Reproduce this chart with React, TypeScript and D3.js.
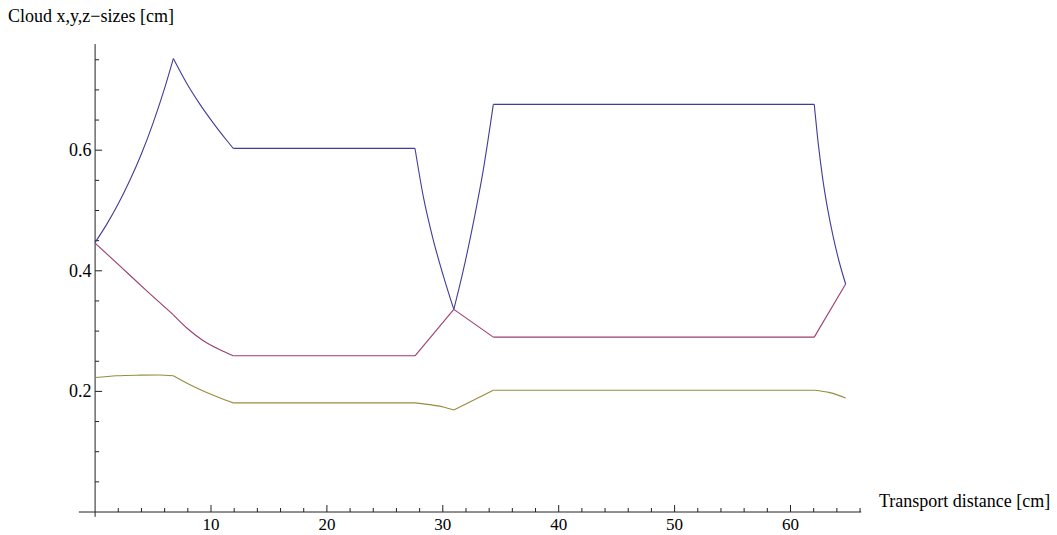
import React from "react";
import * as d3 from "d3";

const W = 1057;
const H = 535;

const titleY = "Cloud x,y,z\u2212sizes [cm]";
const titleX = "Transport distance [cm]";

const xMajorTicks = [10, 20, 30, 40, 50, 60];
const yMajorTicks = [0.2, 0.4, 0.6];

// break points where the curves have corners
const kinks = [6.75, 11.92, 27.6, 30.95, 34.36, 62.05];

const seriesX: [number, number][] = [
  [0, 0.447], [1, 0.477], [2, 0.511], [3, 0.55], [4, 0.594], [5, 0.645], [6, 0.703],
  [6.75, 0.752], [7.9, 0.711], [9.05, 0.676], [10.2, 0.645], [11.35, 0.6165], [11.92, 0.603],
  [27.6, 0.603], [28.32, 0.523], [29.18, 0.451], [30.04, 0.392], [30.95, 0.336],
  [31.77, 0.401], [32.63, 0.479], [33.49, 0.567], [34.36, 0.676],
  [62.05, 0.676], [62.4, 0.61], [62.8, 0.55], [63.2, 0.503], [63.7, 0.455], [64.2, 0.415],
  [64.76, 0.378],
];

const seriesY: [number, number][] = [
  [0, 0.446], [2.25, 0.406], [4.5, 0.366], [6.75, 0.327], [8.04, 0.303], [9.34, 0.284],
  [10.78, 0.269], [11.92, 0.259], [27.6, 0.259], [30.95, 0.336], [34.36, 0.29],
  [62.05, 0.29], [64.76, 0.378],
];

const seriesZ: [number, number][] = [
  [0, 0.223], [1.86, 0.226], [3.87, 0.227], [5.5, 0.2273], [6.75, 0.226], [8.19, 0.211],
  [9.63, 0.198], [11.06, 0.187], [11.92, 0.181], [27.6, 0.181], [28.9, 0.178],
  [30.04, 0.174], [30.95, 0.169], [34.36, 0.202], [62.05, 0.202], [63.4, 0.198],
  [64.76, 0.189],
];

const seriesList = [
  { name: "x", data: seriesX, color: "#3f3d99" },
  { name: "y", data: seriesY, color: "#993d71" },
  { name: "z", data: seriesZ, color: "#998b3d" },
];

function splitAtKinks(data: [number, number][]) {
  const pieces: [number, number][][] = [];
  let cur: [number, number][] = [];
  data.forEach((p, i) => {
    cur.push(p);
    const isKink = kinks.some((k) => Math.abs(k - p[0]) < 1e-6);
    if (isKink && i > 0 && i < data.length - 1) {
      pieces.push(cur);
      cur = [p];
    }
  });
  if (cur.length > 1) pieces.push(cur);
  return pieces;
}

export default function App() {
  const x = d3.scaleLinear().domain([0, 60]).range([95.1, 790.5]);
  const y = d3.scaleLinear().domain([0, 0.6]).range([512, 150.2]);

  const xMinor = d3.range(2, 67, 2).filter((v) => v % 10 !== 0);
  const yMinor = d3
    .range(1, 16)
    .map((i) => +(i * 0.05).toFixed(2))
    .filter((v) => Math.abs(v * 5 - Math.round(v * 5)) > 1e-6);

  const line = d3
    .line<[number, number]>()
    .x((d) => x(d[0]))
    .y((d) => y(d[1]))
    .curve(d3.curveMonotoneX);

  const axisColor = "#222";
  const font = "'Liberation Serif', 'Times New Roman', serif";
  const fs = 18;

  return (
    <svg
      width={W}
      height={H}
      style={{ position: "absolute", left: 0, top: 0, background: "#fff" }}
      fontFamily={font}
    >
      {/* axes */}
      <line x1={x(-1.4)} x2={x(66.1)} y1={y(0)} y2={y(0)} stroke={axisColor} strokeWidth={1} />
      <line x1={x(0)} x2={x(0)} y1={y(-0.008)} y2={y(0.776)} stroke={axisColor} strokeWidth={1} />

      {xMajorTicks.map((t) => (
        <g key={"xm" + t}>
          <line x1={x(t)} x2={x(t)} y1={y(0)} y2={y(0) - 7} stroke={axisColor} />
          <text x={x(t)} y={530} textAnchor="middle" fontSize={17} fill="#000">
            {t}
          </text>
        </g>
      ))}
      {xMinor.map((t) => (
        <line key={"xn" + t} x1={x(t)} x2={x(t)} y1={y(0)} y2={y(0) - 4} stroke={axisColor} />
      ))}
      {yMajorTicks.map((t) => (
        <g key={"ym" + t}>
          <line x1={x(0)} x2={x(0) + 7} y1={y(t)} y2={y(t)} stroke={axisColor} />
          <text x={91.5} y={y(t) + 6} textAnchor="end" fontSize={fs} fill="#000">
            {t.toFixed(1)}
          </text>
        </g>
      ))}
      {yMinor.map((t) => (
        <line key={"yn" + t} x1={x(0)} x2={x(0) + 4} y1={y(t)} y2={y(t)} stroke={axisColor} />
      ))}

      <text x={8} y={22} fontSize={fs} fill="#000">
        {titleY}
      </text>
      <text x={879} y={507} fontSize={fs} fill="#000">
        {titleX}
      </text>

      {seriesList.map((s) =>
        splitAtKinks(s.data).map((piece, i) => (
          <path
            key={s.name + i}
            d={line(piece) || ""}
            fill="none"
            stroke={s.color}
            strokeWidth={1.1}
          />
        ))
      )}
    </svg>
  );
}
